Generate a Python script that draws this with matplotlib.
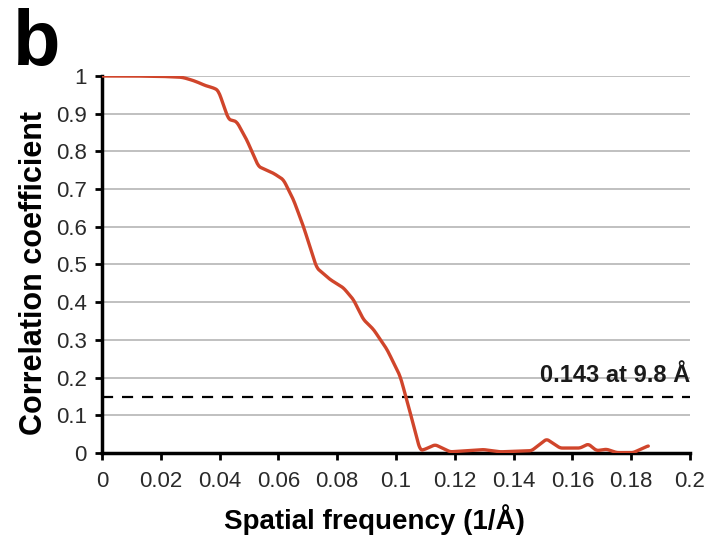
import numpy as np
import matplotlib
matplotlib.use("Agg")
import matplotlib.pyplot as plt

plt.rcParams['font.family'] = ['Liberation Sans', 'DejaVu Sans']

# FSC curve
freq = [0.0, 0.01, 0.02, 0.0265, 0.028, 0.031, 0.0333, 0.035, 0.038, 0.0395,
        0.0407, 0.043, 0.0458, 0.0492,
        0.0532, 0.0583, 0.0617, 0.0651, 0.0685, 0.073, 0.0776, 0.0821, 0.0855,
        0.0889, 0.0923, 0.0969, 0.1014, 0.1042, 0.1082, 0.1099, 0.1133, 0.1184,
        0.1297, 0.1354, 0.1461, 0.1512, 0.1558, 0.1626, 0.1654, 0.1682, 0.1716,
        0.175, 0.1807, 0.1858]
fsc = [1.0, 1.0, 0.999, 0.997, 0.995, 0.988, 0.981, 0.975, 0.968, 0.962,
       0.937, 0.885, 0.879, 0.831,
       0.760, 0.742, 0.725, 0.672, 0.601, 0.491, 0.460, 0.438, 0.407,
       0.354, 0.328, 0.275, 0.204, 0.125, 0.006, 0.010, 0.022, 0.003,
       0.009, 0.003, 0.006, 0.037, 0.013, 0.013, 0.024, 0.006, 0.010,
       0.001, 0.001, 0.019]
threshold = 0.148
threshold_label = "0.143 at 9.8 Å"

xticks = [0, 0.02, 0.04, 0.06, 0.08, 0.1, 0.12, 0.14, 0.16, 0.18, 0.2]
xtick_labels = ["0", "0.02", "0.04", "0.06", "0.08", "0.1", "0.12", "0.14", "0.16", "0.18", "0.2"]
yticks = [0, 0.1, 0.2, 0.3, 0.4, 0.5, 0.6, 0.7, 0.8, 0.9, 1]
ytick_labels = ["0", "0.1", "0.2", "0.3", "0.4", "0.5", "0.6", "0.7", "0.8", "0.9", "1"]

fig = plt.figure(figsize=(7.1, 5.37), dpi=100)
ax = fig.add_axes([0.1437, 0.1565, 0.8282, 0.7020])

# light smoothing of the sampled curve
xf = np.linspace(freq[0], freq[-1], 800)
yf = np.interp(xf, freq, fsc)
k = np.ones(7) / 7
yf_s = np.convolve(np.pad(yf, 3, mode='edge'), k, mode='valid')

for y in yticks[1:]:
    ax.axhline(y, color='#c0c0c0', lw=1.4, zorder=1)

ax.plot(xf, yf_s, color='#d0452b', lw=2.4, zorder=3, solid_capstyle='round')
ax.axhline(threshold, color='black', lw=1.6, ls=(0, (5, 4)), zorder=2)
ax.text(0.2, threshold + 0.028, threshold_label, ha='right', va='bottom',
        fontsize=17, fontweight='bold', color='#1a1a1a')

ax.set_xlim(0, 0.2)
ax.set_ylim(0, 1)
ax.set_xticks(xticks)
ax.set_xticklabels(xtick_labels)
ax.set_yticks(yticks)
ax.set_yticklabels(ytick_labels)
ax.tick_params(axis='both', direction='out', length=5, width=2, labelsize=16,
               colors='black', labelcolor='#2a2a2a', pad=8)
ax.tick_params(axis='y', pad=6)

for s in ['top', 'right']:
    ax.spines[s].set_visible(False)
for s in ['left', 'bottom']:
    ax.spines[s].set_linewidth(2.5)
ax.set_clip_on(False)

ax.set_xlabel("Spatial frequency (1/Å)", fontsize=20, fontweight='bold', labelpad=8)
ax.set_ylabel("Correlation coefficient", fontsize=22, fontweight='bold', labelpad=8)
ax.xaxis.set_label_coords(0.463, -0.135)
ax.yaxis.set_label_coords(-0.091, 0.477)

fig.text(0.018, 0.985, "b", fontsize=56, fontweight='bold', ha='left', va='top')

fig.savefig("out.png", dpi=100)
